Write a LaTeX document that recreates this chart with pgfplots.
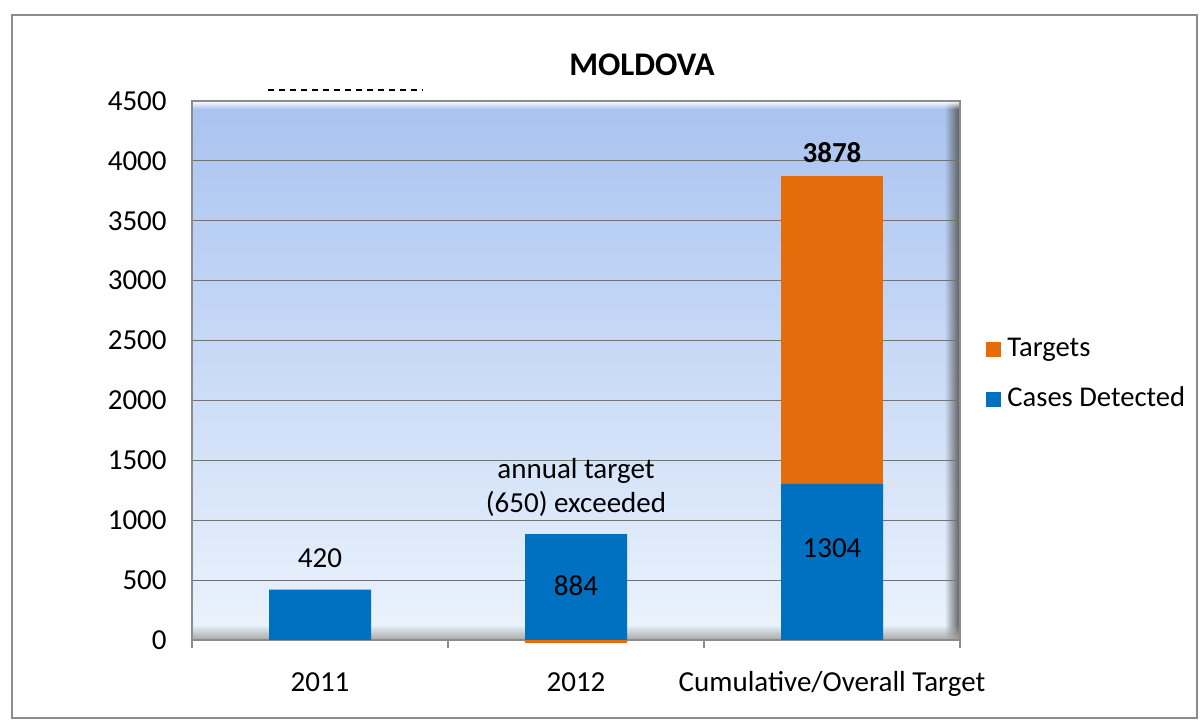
\documentclass[border=0pt]{standalone}
\usepackage{pgfplots}
\pgfplotsset{compat=1.18}
\usepackage{fontspec}
\setmainfont{Carlito}
\usetikzlibrary{fadings}

\definecolor{cases}{HTML}{0070C0}
\definecolor{targets}{HTML}{E46C0A}
\definecolor{wallTop}{HTML}{A9C3F0}
\definecolor{wallBot}{HTML}{EBF3FD}
\definecolor{frameGray}{HTML}{8C8C8C}

\pgfplotsset{
  moldova/.style={
    at={(96pt,41pt)}, anchor=south west,
    scale only axis, width=384pt, height=269.5pt,
    xmin=-0.5, xmax=2.5, ymin=0, ymax=4500,
    enlargelimits=false,
  },
}
\tikzset{lbl/.style={font=\fontsize{14.5}{17}\selectfont}}

\begin{document}
\begin{tikzpicture}
\useasboundingbox (0,0) rectangle (600pt,361pt);
% outer chart frame
\draw[frameGray, line width=1.2pt] (6pt,2pt) rectangle (598.5pt,353.5pt);

% plot wall: gradient and bevel
\begin{axis}[moldova, axis lines=none, ticks=none,
    axis background/.style={top color=wallTop, bottom color=wallBot}]
\addplot[draw=none] coordinates {(0,0)};
\fill[black!65, path fading=west] (rel axis cs:0.98,0) rectangle (rel axis cs:1,1);
\fill[black!35, path fading=north] (rel axis cs:0,0) rectangle (rel axis cs:1,0.028);
\fill[white!80, path fading=south] (rel axis cs:0,0.985) rectangle (rel axis cs:1,1);
\end{axis}

\begin{axis}[moldova,
    ybar stacked, bar width=51pt,
    axis line style={draw=frameGray, line width=0.8pt},
    scaled y ticks=false,
    ytick={0,500,...,4500},
    ymajorgrids,
    grid style={draw=gray!90!black, line width=0.6pt},
    ytick style={draw=none},
    yticklabel style={anchor=east, inner sep=0pt, xshift=-8.5pt},
    xtick={-0.5,0.5,1.5,2.5}, xticklabels={},
    xtick pos=lower,
    tick align=outside, major tick length=4pt,
    xtick style={draw=frameGray, line width=0.8pt},
    extra x ticks={0,1,2},
    extra x tick labels={2011,2012,Cumulative/Overall Target},
    extra x tick style={major tick length=0pt, grid=none,
        xticklabel style={anchor=base, inner sep=0pt, yshift=-26pt}},
    tick label style={font=\fontsize{14.5}{17}\selectfont},
    /pgf/number format/assume math mode=true,
    /pgf/number format/1000 sep={},
    legend style={at={(1.026,0.4935)}, anchor=west, draw=none, fill=none,
        row sep=12pt, font=\fontsize{14.3}{17}\selectfont,
        nodes={inner ysep=0pt, inner xsep=3pt, text height=10pt, text depth=3pt}},
    legend cell align=left,
    reverse legend,
    legend image code/.code={\fill[#1] (0pt,-3.75pt) rectangle (7.5pt,3.75pt);},
]
\addplot[fill=cases, draw=none] coordinates {(0,420) (1,884) (2,1304)};
\addlegendentry{Cases Detected}
\addplot[fill=targets, draw=none] coordinates {(0,0) (1,0) (2,2574)};
\addlegendentry{Targets}
\end{axis}

% 2012 target falls slightly below zero; value labels on top
\begin{axis}[moldova, axis lines=none, ticks=none, clip=false,
    ybar, bar width=51pt]
\addplot[fill=targets, draw=none] coordinates {(1,-25)};
\node[lbl] at (axis cs:0,685) {420};
\node[lbl] at (axis cs:1,451) {884};
\node[lbl] at (axis cs:2,768) {1304};
\node[font=\bfseries\fontsize{14.5}{17}\selectfont] at (axis cs:2,4066) {3878};
\node[lbl] at (axis cs:1,1411) {annual target};
\node[lbl] at (axis cs:1,1135) {(650) exceeded};
\end{axis}

% title
\node[font=\bfseries\fontsize{16.5}{19}\selectfont] at (321pt,328.5pt) {MOLDOVA};
% clipped text remnant above the wall
\draw[black, line width=0.6pt, dash pattern=on 3pt off 2.5pt] (134pt,316pt) -- (211.5pt,316pt);
\end{tikzpicture}
\end{document}
